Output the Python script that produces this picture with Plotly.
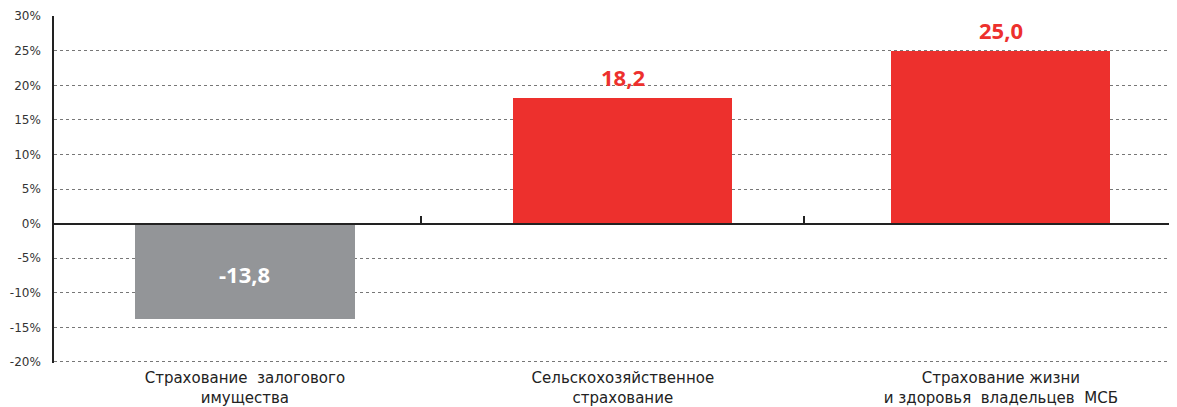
import plotly.graph_objects as go

# data
categories = [
    "Страхование  залогового<br>имущества",
    "Сельскохозяйственное<br>страхование",
    "Страхование жизни<br>и здоровья  владельцев  МСБ",
]
values = [-13.8, 18.2, 25.0]
labels = ["-13,8", "18,2", "25,0"]
colors = ["#939598", "#ED302D", "#ED302D"]
label_colors = ["#FFFFFF", "#ED302D", "#ED302D"]
y_ticks = [-20, -15, -10, -5, 0, 5, 10, 15, 20, 25, 30]
y_ticktext = [f"{v}%" for v in y_ticks]
separator_ticks = [0.466, 1.48]

xpos = list(range(len(categories)))
xrange = [-0.505, 2.466]

fig = go.Figure()
fig.add_trace(go.Bar(
    x=xpos, y=values, width=0.58,
    marker=dict(color=colors, line=dict(width=0)),
    hoverinfo="skip", showlegend=False,
))
# invisible trace so the separator axis gets drawn
fig.add_trace(go.Scatter(x=[xrange[0]], y=[0], xaxis="x2", mode="markers",
                         marker=dict(opacity=0), hoverinfo="skip", showlegend=False))

for x, v, t, c in zip(xpos, values, labels, label_colors):
    if v < 0:
        fig.add_annotation(x=x, y=v / 2, text="<b>" + t + "</b>", showarrow=False,
                           font=dict(size=22, color=c, family="Open Sans"), yshift=-3)
    else:
        fig.add_annotation(x=x, y=v, text="<b>" + t + "</b>", showarrow=False,
                           yanchor="bottom", yshift=4,
                           font=dict(size=22, color=c, family="Open Sans"))

# the page body has an 8px margin, so the figure is sized to what is visible
fig.update_layout(
    width=1169, height=399,
    margin=dict(l=46, r=0, t=8, b=44),
    paper_bgcolor="white", plot_bgcolor="white",
    font=dict(family="DejaVu Sans", color="#222222"),
    xaxis=dict(
        range=xrange, tickvals=xpos, ticktext=categories, automargin=False,
        showgrid=False, zeroline=False, showline=False, ticks="",
        ticklabelstandoff=4,
        tickfont=dict(size=15, color="#222222"),
    ),
    xaxis2=dict(
        range=xrange, overlaying="x", anchor="free", position=0.4, side="bottom",
        tickvals=separator_ticks, showticklabels=False, automargin=False,
        ticks="inside", ticklen=7, tickwidth=2, tickcolor="#222222",
        showline=True, linecolor="#222222", linewidth=1.5,
        showgrid=False, zeroline=False, layer="above traces",
    ),
    yaxis=dict(
        range=[-20.15, 30.03], tickvals=y_ticks, ticktext=y_ticktext, automargin=False,
        showgrid=True, gridcolor="#777777", griddash="dot", gridwidth=1,
        zeroline=False, showline=True, linecolor="#222222", linewidth=1.5,
        ticks="", ticklabelstandoff=9,
        tickfont=dict(size=12, color="#333333", family="DejaVu Sans"),
    ),
    bargap=0,
)

fig.write_html("out.html")
